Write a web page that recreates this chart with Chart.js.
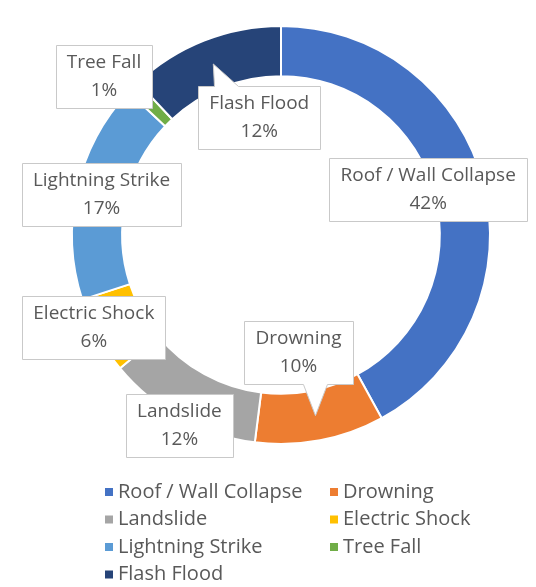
<!DOCTYPE html>
<html>
<head>
<meta charset="utf-8">
<script src="https://cdn.jsdelivr.net/npm/chart.js@4"></script>
<style>
  html, body { margin: 0; padding: 0; background: #fff; }
  #wrap { width: 536px; height: 587px; }
</style>
</head>
<body>
<div id="wrap"><canvas id="deathChart" width="536" height="587"></canvas></div>
<script>
// data
const causes = ["Roof / Wall Collapse", "Drowning", "Landslide", "Electric Shock", "Lightning Strike", "Tree Fall", "Flash Flood"];
const shares = [42, 10, 12, 6, 17, 1, 12];
const sliceColors = ["#4472C4", "#ED7D31", "#A5A5A5", "#FFC000", "#5B9BD5", "#70AD47", "#264478"];

// where each callout box sits, relative to the middle of its slice
const calloutShift = [[-31, 0], [-17, -63], [-13, 29], [-26, 4], [0, 0], [-47, -28], [46, 54]];

const LABEL_FONT = "19px 'Open Sans', sans-serif";
const LEGEND_FONT = "20px 'Open Sans', sans-serif";
const TEXT_COLOR = "#595959";

function pointerPath(ctx, box, tip) {
  // rectangle callout with a wedge towards the slice, if the slice point is outside the box
  const { l, t, r, b } = box;
  const inside = tip.x >= l && tip.x <= r && tip.y >= t && tip.y <= b;
  ctx.beginPath();
  ctx.moveTo(l, t);
  if (!inside && tip.y < t) {
    const cx = Math.min(Math.max(tip.x, l + 28), r - 28);
    ctx.lineTo(cx - 12, t);
    ctx.lineTo(tip.x, tip.y);
    ctx.lineTo(cx + 12, t);
  }
  ctx.lineTo(r, t);
  ctx.lineTo(r, b);
  if (!inside && tip.y > b) {
    const cx = Math.min(Math.max(tip.x, l + 28), r - 28);
    ctx.lineTo(cx + 12, b);
    ctx.lineTo(tip.x, tip.y);
    ctx.lineTo(cx - 12, b);
  }
  ctx.lineTo(l, b);
  ctx.closePath();
}

const calloutPlugin = {
  id: "callouts",
  afterDatasetsDraw(chart) {
    const ctx = chart.ctx;
    const meta = chart.getDatasetMeta(0);
    const values = chart.data.datasets[0].data;
    const total = values.reduce((a, v) => a + v, 0);
    ctx.save();
    ctx.font = LABEL_FONT;
    meta.data.forEach((arc, i) => {
      const p = arc.getProps(["x", "y", "startAngle", "endAngle", "innerRadius", "outerRadius"], true);
      const a = (p.startAngle + p.endAngle) / 2;
      const rm = (p.innerRadius + p.outerRadius) / 2;
      const tip = { x: p.x + Math.cos(a) * rm, y: p.y + Math.sin(a) * rm };
      const cx = tip.x + calloutShift[i][0];
      const cy = tip.y + calloutShift[i][1];
      const line1 = chart.data.labels[i];
      const line2 = Math.round(values[i] / total * 100) + "%";
      const w = Math.max(ctx.measureText(line1).width, ctx.measureText(line2).width) + 22;
      const h = 63;
      const box = { l: Math.round(cx - w / 2) + 0.5, t: Math.round(cy - h / 2) + 0.5, r: Math.round(cx + w / 2) + 0.5, b: Math.round(cy + h / 2) + 0.5 };
      pointerPath(ctx, box, tip);
      ctx.fillStyle = "#fff";
      ctx.fill();
      ctx.strokeStyle = "#C9C9C9";
      ctx.lineWidth = 1;
      ctx.stroke();
      ctx.fillStyle = TEXT_COLOR;
      ctx.textAlign = "center";
      ctx.textBaseline = "middle";
      ctx.fillText(line1, cx, cy - 14);
      ctx.fillText(line2, cx, cy + 14);
    });
    ctx.restore();
  }
};

const legendPlugin = {
  id: "twoColLegend",
  afterDraw(chart) {
    const ctx = chart.ctx;
    const colX = [105, 330];
    const rowY = 492, rowGap = 27.5;
    ctx.save();
    ctx.font = LEGEND_FONT;
    ctx.textAlign = "left";
    ctx.textBaseline = "middle";
    chart.data.labels.forEach((lab, i) => {
      const x = colX[i % 2];
      const y = rowY + Math.floor(i / 2) * rowGap;
      ctx.fillStyle = chart.data.datasets[0].backgroundColor[i];
      ctx.fillRect(x, y - 4, 8, 8);
      ctx.fillStyle = TEXT_COLOR;
      ctx.fillText(lab, x + 13, y);
    });
    ctx.restore();
  }
};

new Chart(document.getElementById("deathChart"), {
  type: "doughnut",
  data: {
    labels: causes,
    datasets: [{
      data: shares,
      backgroundColor: sliceColors,
      borderColor: "#fff",
      borderWidth: 2
    }]
  },
  options: {
    responsive: false,
    animation: false,
    cutout: "76%",
    layout: { padding: { left: 26, top: 25, bottom: 142 } },
    plugins: {
      legend: { display: false },
      tooltip: { enabled: false }
    }
  },
  plugins: [calloutPlugin, legendPlugin]
});
</script>
</body>
</html>
